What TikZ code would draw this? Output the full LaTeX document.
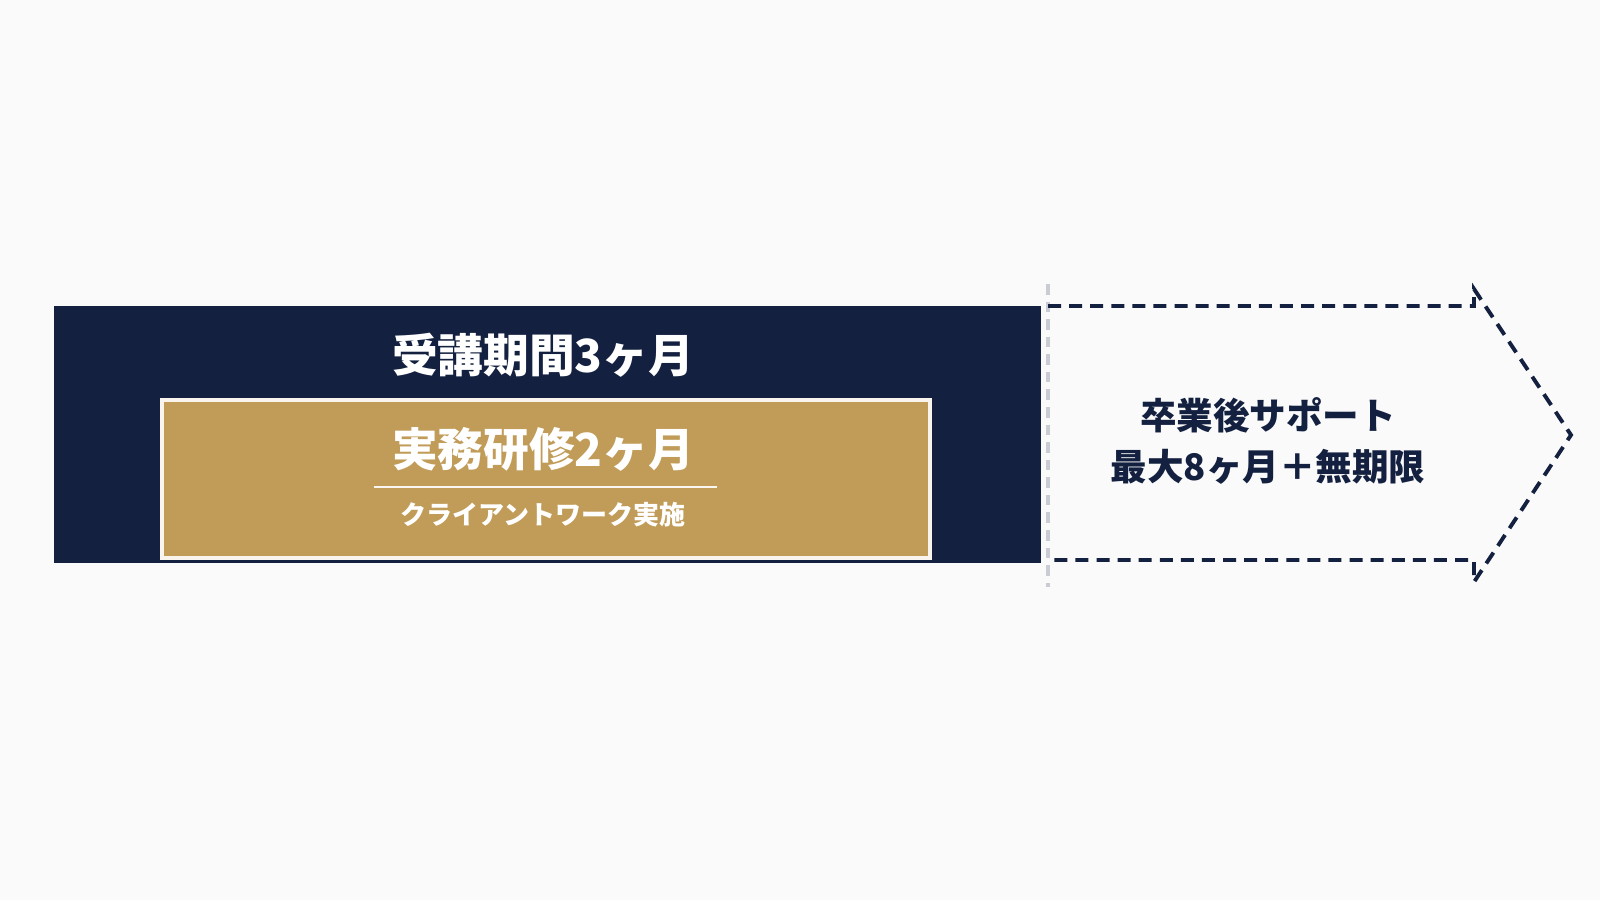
\documentclass[tikz,border=0pt]{standalone}
\usepackage{fontspec}
\newfontfamily\jpfont{Noto Sans CJK JP}
\definecolor{navy}{HTML}{13203F}
\definecolor{gold}{HTML}{C19C58}
\definecolor{paper}{HTML}{FAFAFA}
\definecolor{guide}{HTML}{C9CDD3}
\begin{document}
\begin{tikzpicture}[font=\jpfont\bfseries,
    bigtitle/.style={text=white, font=\jpfont\bfseries\fontsize{13pt}{15pt}\selectfont},
    subtitle/.style={text=white, font=\jpfont\bfseries\fontsize{7.4pt}{9pt}\selectfont},
    supporttext/.style={text=navy, align=center, font=\jpfont\bfseries\fontsize{10.4pt}{14.4pt}\selectfont},
    arrowline/.style={navy, line width=1.1pt, dash pattern=on 3.7pt off 2.3pt}]
        \fill [paper] (0, 0) rectangle (16, 9);
        \useasboundingbox (0, 0) rectangle (16, 9);
        % main bar and practice block
        \fill [navy] (0.54, 3.37) rectangle (10.41, 5.94);
        \filldraw [fill=gold, draw=white!90!gold, line width=1pt] (1.62, 3.42) rectangle (9.30, 5.00);
        \node [bigtitle] (course) at (5.43, 5.45) {受講期間3ヶ月};
        \node [bigtitle] (practice) at (5.43, 4.51) {実務研修2ヶ月};
        \coordinate (ruleL) at (3.74, 4.13);
        \coordinate (ruleR) at (7.17, 4.13);
        \draw [white!92!gold, line width=0.6pt] (ruleL) -- (ruleR);
        \node [subtitle] (work) at (5.43, 3.85) {クライアントワーク実施};
        % support arrow
        \draw [guide, line width=1.2pt, dash pattern=on 3pt off 2pt] (10.48, 6.16) -- (10.48, 3.13);
        \coordinate (tailT) at (10.48, 5.94);
        \coordinate (neckT) at (14.74, 5.94);
        \coordinate (barbT) at (14.74, 6.11);
        \coordinate (tip) at (15.71, 4.65);
        \coordinate (barbB) at (14.74, 3.18);
        \coordinate (neckB) at (14.74, 3.40);
        \coordinate (tailB) at (10.48, 3.40);
        \draw [arrowline] (tailT) -- (neckT) -- (barbT) -- (tip) -- (barbB) -- (neckB) -- (tailB);
        \node [supporttext] (support) at (12.68, 4.59) {卒業後サポート\\最大8ヶ月＋無期限};
      \end{tikzpicture}
\end{document}
